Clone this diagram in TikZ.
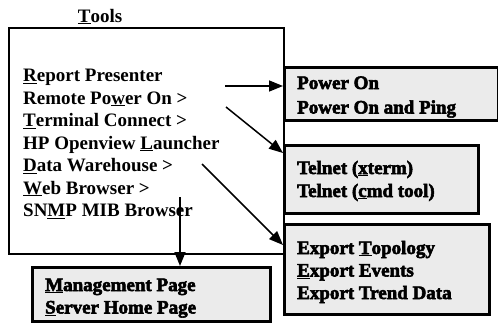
\documentclass[tikz,border=0pt]{standalone}
\usepackage{fontspec}
\setmainfont{Liberation Serif}
\newfontfamily\heavyfont[FakeBold=3]{Liberation Serif Bold}
\usetikzlibrary{arrows.meta}
\newcommand\mnem[1]{\underline{#1}}
\tikzset{
  menutext/.style={anchor=base west, inner sep=0pt, font=\bfseries\fontsize{19}{22.5}\selectfont},
  subtext/.style={anchor=base west, inner sep=0pt, font=\heavyfont\fontsize{19}{22.5}\selectfont},
  mainframe/.style={draw, line width=1.5pt, anchor=north west, inner sep=0pt},
  subframe/.style={draw, line width=2.8pt, fill=black!8, anchor=north west, inner sep=0pt},
  arr/.style={line width=1.5pt, -{Triangle[length=14pt,width=11pt]}}
}
\begin{document}
\begin{tikzpicture}[x=1pt,y=-1pt]
\useasboundingbox (0,0) rectangle (498,322);
% frames
\node[mainframe, minimum width=275pt, minimum height=226pt] (main) at (8,27) {};
\node[subframe, minimum width=214pt, minimum height=53pt] (pwr) at (283,66) {};
\node[subframe, minimum width=194pt, minimum height=68pt] (tel) at (283,144) {};
\node[subframe, minimum width=205pt, minimum height=90pt] (exp) at (283,223) {};
\node[subframe, minimum width=238pt, minimum height=54pt] (mgmt) at (31,266) {};
% title
\node[menutext, anchor=base] (title) at (100,22) {\mnem{T}ools};
% menu items
\node[menutext] (m1) at (23,81.5) {\mnem{R}eport Presenter};
\node[menutext] (m2) at (23,104) {Remote Po\mnem{w}er On >};
\node[menutext] (m3) at (23,126.5) {\mnem{T}erminal Connect >};
\node[menutext] (m4) at (23,149) {HP Openview \mnem{L}auncher};
\node[menutext] (m5) at (23,171.5) {\mnem{D}ata Warehouse >};
\node[menutext] (m6) at (23,194) {\mnem{W}eb Browser >};
\node[menutext] (m7) at (23,216.5) {SN\mnem{M}P MIB Browser};
% submenu texts
\node[subtext] (p1) at (297,89) {Power On};
\node[subtext] (p2) at (297,113.5) {Power On and Ping};
\node[subtext] (t1) at (297,174) {Telnet (\mnem{x}term)};
\node[subtext] (t2) at (297,197) {Telnet (\mnem{c}md tool)};
\node[subtext] (e1) at (297,254) {Export \mnem{T}opology};
\node[subtext] (e2) at (297,276.5) {\mnem{E}xport Events};
\node[subtext] (e3) at (297,299) {Export Trend Data};
\node[subtext] (g1) at (45,291) {\mnem{M}anagement Page};
\node[subtext] (g2) at (45,313.5) {\mnem{S}erver Home Page};
% connectors
\coordinate (s1) at (225,86);
\coordinate (s2) at (226,107);
\coordinate (s3) at (202,164);
\coordinate (s4) at (180,197);
\coordinate (f2) at (283,153);
\coordinate (f3) at (283,245);
\draw[arr] (s1) -- (s1 -| pwr.west);
\draw[arr] (s2) -- (f2);
\draw[arr] (s3) -- (f3);
\draw[arr] (s4) -- (s4 |- mgmt.north);
\end{tikzpicture}
\end{document}
